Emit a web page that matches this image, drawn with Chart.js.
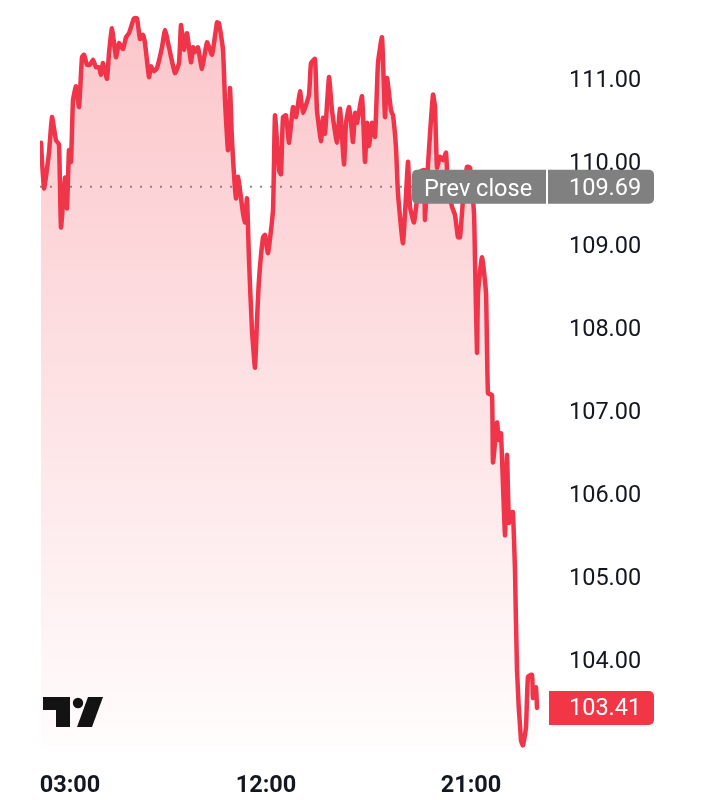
<!DOCTYPE html>
<html><head><meta charset="utf-8">
<style>html,body{margin:0;padding:0;background:#fff}canvas{display:block}</style>
<script src="https://cdn.jsdelivr.net/npm/chart.js@4"></script>
</head><body><canvas id="c" width="720" height="800"></canvas>
<script>
const bars=[0.5,2,4.5,6,8,9.5,10.5,12.5,13.5,14.5,15.5,16.5,18,19.5,21,22,23.5,25,26.5,28,29.5,30.5,31.5,33.5,34.5,36,38,39.5,41.5,43,44.5,47,48.5,50,51.5,52.5,54.5,55.5,57,58.5,61,62.5,64.5,67.5,69.5,70.5,72,73.5,75.5,76.5,77.5,79,81,83.5,86,88.5,89.5,91.5,92.5,94,95,96,98,99,101.5,102.5,103.5,104.5,106,107.5,108.5,109.5,111.5,112.5,114,116.5,117.5,119.5,120.5,121.5,123,124.5,126.5,128,130,131.5,134.5,135.5,137.5,138.5,140.5,141.5,142.5,144.5,146,148.5,150,152,153,154.5,155.5,156.5,157.5,158.5,161,162.5,163.5,164.5,166,167.5,169,171,172.5,173.5,175.5,176.5,178,179,181.5,184,185,187,189,190,192,192.5,194,196.5,197.5,198.5,200,201.5,203,204,206,207.5,209,210,211.5,213.5,215,217,217.5,218.5,219,221,223,224,226,226.5,228.5,229.5,230.5,232.5,233.5,234.5,236,236.5,237.5,238.5,240.5,241.5,243,244,246,246.5,248,248.5];
const prices=[110.22,109.67,110.10,110.53,110.25,110.20,109.20,109.80,109.43,110.13,109.99,110.73,110.90,110.65,111.25,111.28,111.16,111.16,111.22,111.13,111.13,111.04,111.18,110.99,111.30,111.60,111.25,111.42,111.35,111.49,111.54,111.72,111.72,111.47,111.52,111.42,111.01,111.14,111.08,111.12,111.37,111.58,111.37,111.06,111.18,111.64,111.34,111.54,111.19,111.37,111.31,111.37,111.11,111.43,111.28,111.67,111.66,111.34,110.73,110.13,110.88,110.25,109.55,109.81,109.37,109.26,109.55,108.81,107.96,107.51,108.08,108.57,109.08,109.11,108.89,109.41,110.55,109.89,109.84,110.53,110.55,110.22,110.65,110.53,110.84,110.58,110.80,111.18,111.23,110.61,110.24,110.52,110.33,111.01,110.61,110.22,110.63,109.96,110.46,110.65,110.46,110.23,110.58,110.46,110.78,109.99,110.46,110.18,110.46,110.29,111.18,111.49,110.53,111.00,110.61,110.55,110.16,109.61,109.01,109.99,109.45,109.26,109.65,109.87,109.89,109.29,109.95,110.80,110.65,109.92,110.05,110.01,110.10,109.69,109.45,109.35,109.08,109.08,109.53,109.93,109.92,109.37,108.81,107.69,108.41,108.84,108.41,107.20,107.18,106.37,106.85,106.64,106.72,105.49,106.46,105.64,105.77,105.77,105.07,103.87,103.02,102.96,103.18,103.79,103.81,103.53,103.66,103.41];
const yTicks=[104,105,106,107,108,109,110,111];
const xTickBars=[15,113,215.5];
const xTickLabels=['03:00','12:00','21:00'];
const prevClose=109.69;
const lastPrice=103.41;
const prevSpan=[0,186];

const RED='#f23645', LINE='#f0354a', GREY='#808080';
function pill(ctx,x,y,w,h,r){ctx.beginPath();ctx.roundRect(x,y,w,h,r);ctx.fill();}
const overlay={id:'overlay',afterDraw(chart){
  const ctx=chart.ctx,ys=chart.scales.y;
  ctx.save();
  const py=ys.getPixelForValue(prevClose), ly=ys.getPixelForValue(lastPrice);
  ctx.fillStyle=GREY;
  pill(ctx,412,py-17,134,34,[5,0,0,5]);
  pill(ctx,548,py-17,106,34,[0,5,5,0]);
  ctx.fillStyle=RED;
  pill(ctx,549,ly-17,105,34,[0,5,5,0]);
  ctx.fillStyle='#fff';
  ctx.font='23.5px Roboto';
  ctx.textBaseline='middle';ctx.textAlign='left';
  ctx.fillText('Prev close',424,py+3);
  ctx.fillText(prevClose.toFixed(2),569,py+2);
  ctx.fillText(lastPrice.toFixed(2),569,ly+1);
  ctx.fillStyle='#131313';
  ctx.beginPath();ctx.moveTo(43,697);ctx.lineTo(70,697);ctx.lineTo(70,727);ctx.lineTo(56,727);ctx.lineTo(56,710);ctx.lineTo(43,710);ctx.closePath();ctx.fill();
  ctx.beginPath();ctx.arc(78,703,5.2,0,Math.PI*2);ctx.fill();
  ctx.beginPath();ctx.moveTo(88,697);ctx.lineTo(103,697);ctx.lineTo(92,727);ctx.lineTo(77,727);ctx.closePath();ctx.fill();
  ctx.restore();
}};
new Chart(document.getElementById('c'),{
  type:'line',
  data:{datasets:[
    {data:prevSpan.map(b=>({x:b,y:prevClose})),borderColor:'#8a8a8a',borderWidth:2,borderDash:[2,8],pointRadius:0,fill:false,order:2},
    {data:bars.map((b,i)=>({x:b,y:prices[i]})),borderColor:LINE,borderWidth:4.5,pointRadius:0,tension:0.15,borderJoinStyle:'round',borderCapStyle:'round',fill:'start',order:1,
     backgroundColor(c){const a=c.chart.chartArea;if(!a)return 'transparent';const g=c.chart.ctx.createLinearGradient(0,a.top,0,a.bottom);g.addColorStop(0,'rgba(242,54,69,0.29)');g.addColorStop(1,'rgba(242,54,69,0.01)');return g;}}
  ]},
  options:{
    responsive:false,animation:false,devicePixelRatio:1,
    layout:{padding:{left:40,right:0,top:0,bottom:0}},
    plugins:{legend:{display:false},tooltip:{enabled:false}},
    scales:{
      x:{type:'linear',min:0,max:255,grid:{display:false},border:{display:false},
        afterFit(s){s.height=50;s.paddingLeft=0;s.paddingRight=0;},
        afterBuildTicks(s){s.ticks=xTickBars.map(v=>({value:v}));},
        ticks:{autoSkip:false,maxRotation:0,padding:14,color:'#131722',font:{family:'Roboto',size:23.5,weight:'bold'},
          callback:v=>xTickLabels[xTickBars.indexOf(v)]}},
      y:{type:'linear',position:'right',min:102.904,max:111.94,grid:{display:false},border:{display:false},
        afterFit(s){s.width=170;s.paddingTop=0;s.paddingBottom=0;},
        afterBuildTicks(s){s.ticks=yTicks.map(v=>({value:v}));},
        ticks:{padding:11,labelOffset:3,crossAlign:'near',color:'#131722',font:{family:'Roboto',size:23.5},callback:v=>v.toFixed(2)}}
    }
  },
  plugins:[overlay]
});
</script></body></html>
